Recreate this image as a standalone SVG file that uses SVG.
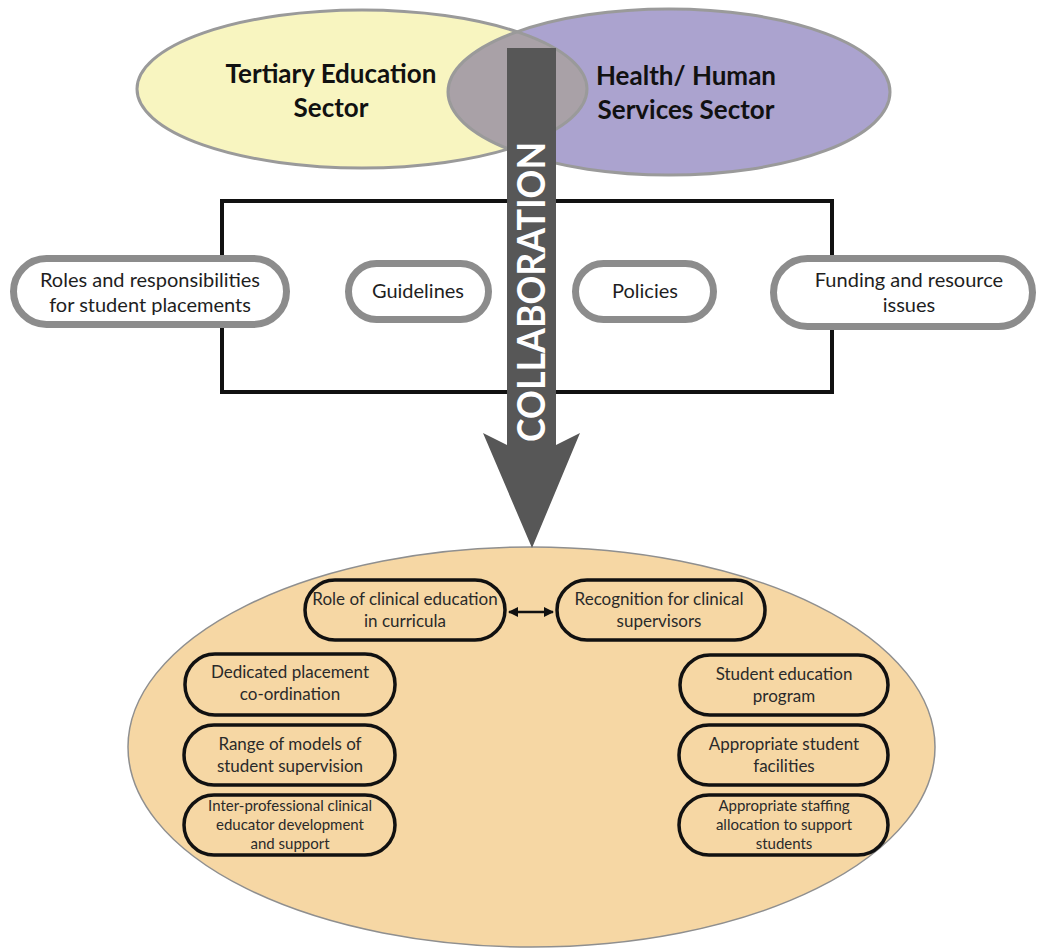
<svg xmlns="http://www.w3.org/2000/svg" width="1042" height="952" viewBox="0 0 1042 952">
  <defs>
    <clipPath id="clipTertiary">
      <ellipse cx="362" cy="89" rx="225" ry="79"/>
    </clipPath>
    <marker id="tip" viewBox="0 0 10 10" refX="9" refY="5" markerWidth="4" markerHeight="4" orient="auto-start-reverse">
      <path d="M0,0 L10,5 L0,10 z" fill="#111"/>
    </marker>
  </defs>
  <style>
    .sector { fill: none; stroke: #9a9a9a; stroke-width: 3; }
    .head { font-family: Lato, "Liberation Sans", sans-serif; font-weight: bold; font-size: 26px; fill: #111; text-anchor: middle; }
    .pill { fill: #ffffff; stroke: #8c8c8c; stroke-width: 7; }
    .ptext { font-family: Lato, "Liberation Sans", sans-serif; font-size: 20px; fill: #1e1e1e; text-anchor: middle; }
    .item { fill: #f6d7a4; stroke: #111; stroke-width: 3.5; }
    .itext { font-family: Lato, "Liberation Sans", sans-serif; font-size: 17px; fill: #2a2a2a; text-anchor: middle; }
    .small { font-size: 15px; }
  </style>

  <rect width="1042" height="952" fill="#ffffff"/>

  <!-- the two sectors -->
  <g id="tertiary-sector">
    <ellipse cx="362" cy="89" rx="225" ry="79" fill="#f8f5c0"/>
  </g>
  <g id="health-sector">
    <ellipse cx="669" cy="92" rx="221" ry="83" fill="#aba3cf"/>
    <ellipse cx="669" cy="92" rx="221" ry="83" fill="#a9a1a7" clip-path="url(#clipTertiary)"/>
  </g>
  <ellipse class="sector" cx="362" cy="89" rx="225" ry="79"/>
  <ellipse class="sector" cx="669" cy="92" rx="221" ry="83"/>
  <text class="head" x="331" y="83">Tertiary Education</text>
  <text class="head" x="331" y="117">Sector</text>
  <text class="head" x="686" y="85">Health/ Human</text>
  <text class="head" x="686" y="119">Services Sector</text>

  <!-- frame around the shared concerns -->
  <g id="frame">
    <rect x="222" y="201" width="610" height="191" fill="none" stroke="#111" stroke-width="4"/>
  </g>

  <g id="roles">
    <rect class="pill" x="13.5" y="258.5" width="273" height="66" rx="33"/>
    <text class="ptext" x="150" y="287">Roles and responsibilities</text>
    <text class="ptext" x="150" y="312">for student placements</text>
  </g>
  <g id="guidelines">
    <rect class="pill" x="348.5" y="263.5" width="140" height="56" rx="28"/>
    <text class="ptext" x="418" y="298">Guidelines</text>
  </g>
  <g id="policies">
    <rect class="pill" x="575.5" y="263.5" width="138" height="56" rx="28"/>
    <text class="ptext" x="645" y="298">Policies</text>
  </g>
  <g id="funding">
    <rect class="pill" x="773.5" y="258.5" width="259" height="68" rx="34"/>
    <text class="ptext" x="909" y="287">Funding and resource</text>
    <text class="ptext" x="909" y="312">issues</text>
  </g>

  <!-- outcome area -->
  <g id="outcomes">
    <ellipse cx="531.5" cy="747" rx="403.5" ry="200" fill="#f6d7a4" stroke="#8f8f8f" stroke-width="1.5"/>
  </g>

  <!-- collaboration arrow -->
  <g id="collaboration">
    <rect x="507" y="48" width="49" height="398" fill="#575757"/>
    <polygon points="507,445 483,433 532,548 580,433 556,445" fill="#575757"/>
    <text x="545" y="292" transform="rotate(-90 545 292)" text-anchor="middle" font-family="Lato, 'Liberation Sans', sans-serif" font-weight="bold" font-size="38" fill="#ffffff" textLength="300" lengthAdjust="spacingAndGlyphs">COLLABORATION</text>
  </g>

  <g id="role-curricula">
    <rect class="item" x="305" y="580" width="200" height="60" rx="30"/>
    <text class="itext" x="405" y="605">Role of clinical education</text>
    <text class="itext" x="405" y="627">in curricula</text>
  </g>
  <g id="recognition">
    <rect class="item" x="557" y="580" width="208" height="60" rx="30"/>
    <text class="itext" x="659" y="605">Recognition for clinical</text>
    <text class="itext" x="659" y="627">supervisors</text>
  </g>
  <g id="placement-coordination">
    <rect class="item" x="185" y="654" width="210" height="61" rx="30"/>
    <text class="itext" x="290" y="678">Dedicated placement</text>
    <text class="itext" x="290" y="700">co-ordination</text>
  </g>
  <g id="student-education">
    <rect class="item" x="680" y="655" width="208" height="60" rx="30"/>
    <text class="itext" x="784" y="680">Student education</text>
    <text class="itext" x="784" y="702">program</text>
  </g>
  <g id="supervision-models">
    <rect class="item" x="184" y="725" width="211" height="60" rx="30"/>
    <text class="itext" x="290" y="750">Range of models of</text>
    <text class="itext" x="290" y="772">student supervision</text>
  </g>
  <g id="student-facilities">
    <rect class="item" x="679" y="725" width="209" height="60" rx="30"/>
    <text class="itext" x="784" y="750">Appropriate student</text>
    <text class="itext" x="784" y="772">facilities</text>
  </g>
  <g id="educator-development">
    <rect class="item" x="184" y="795" width="211" height="60" rx="30"/>
    <text class="itext small" x="290" y="811">Inter-professional clinical</text>
    <text class="itext small" x="290" y="830">educator development</text>
    <text class="itext small" x="290" y="849">and support</text>
  </g>
  <g id="staffing">
    <rect class="item" x="679" y="795" width="209" height="60" rx="30"/>
    <text class="itext small" x="784" y="811">Appropriate staffing</text>
    <text class="itext small" x="784" y="830">allocation to support</text>
    <text class="itext small" x="784" y="849">students</text>
  </g>

  <g id="connectors">
    <line x1="509" y1="612" x2="553" y2="612" stroke="#111" stroke-width="2.5" marker-start="url(#tip)" marker-end="url(#tip)"/>
  </g>
</svg>
